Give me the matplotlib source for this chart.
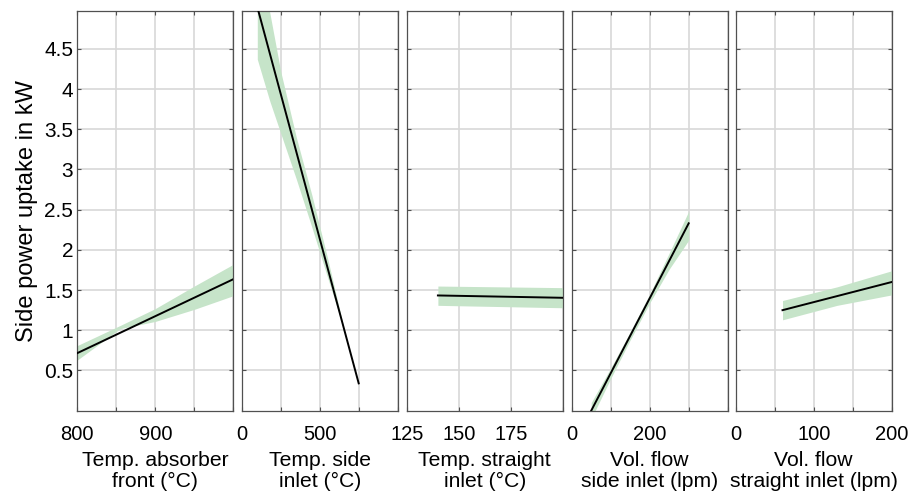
import matplotlib
matplotlib.use("Agg")
import matplotlib.pyplot as plt
import numpy as np

plt.rcParams['font.family'] = ['Liberation Sans', 'DejaVu Sans']
plt.rcParams['font.size'] = 14.5

# ---- data ----
labels = ["Temp. absorber\nfront (°C)", "Temp. side\ninlet (°C)",
          "Temp. straight\ninlet (°C)", "Vol. flow\nside inlet (lpm)",
          "Vol. flow\nstraight inlet (lpm)"]
xlims = [(800, 1000), (0, 1000), (125, 200), (0, 400), (0, 200)]
xticks = [[800, 850, 900, 950, 1000], [0, 250, 500, 750, 1000],
          [125, 150, 175, 200], [0, 100, 200, 300, 400], [0, 50, 100, 150, 200]]
xticklabels = [['800', '', '900', '', ''], ['0', '', '500', '', ''],
               ['125', '150', '175', ''], ['0', '', '200', '', ''],
               ['0', '', '100', '', '200']]

# fitted lines
line_x = [[800, 1000], [100, 750], [140, 200], [50, 300], [60, 200]]
line_y = [[0.716, 1.635], [5.02, 0.34], [1.433, 1.404], [0.0, 2.33], [1.25, 1.60]]

# confidence bands
band_x = [[800, 855, 900, 950, 1000],
          [100, 180, 250, 350, 450, 550, 650],
          [140, 200],
          [50, 100, 150, 200, 250, 300],
          [60, 130, 200]]
band_lo = [[0.63, 1.02, 1.11, 1.26, 1.43],
           [4.37, 3.85, 3.45, 2.88, 2.28, 1.66, 1.05],
           [1.31, 1.28],
           [-0.10, 0.40, 0.88, 1.34, 1.76, 2.12],
           [1.13, 1.31, 1.44]]
band_hi = [[0.81, 1.06, 1.27, 1.55, 1.82],
           [5.58, 4.95, 4.22, 3.40, 2.68, 1.90, 1.07],
           [1.55, 1.53],
           [0.10, 0.53, 0.98, 1.45, 1.96, 2.48],
           [1.37, 1.54, 1.74]]

yticks = [0.5, 1, 1.5, 2, 2.5, 3, 3.5, 4, 4.5]
yticklabels = ['0.5', '1', '1.5', '2', '2.5', '3', '3.5', '4', '4.5']

band_color = '#c6e4c9'
frame_color = '#505050'
grid_color = '#d8d8d8'

fig = plt.figure(figsize=(9.08, 4.96), dpi=100)
lefts = [77.3, 241.7, 406.7, 571.7, 735.7]
W, H = 908.0, 496.0
for i in range(5):
    ax = fig.add_axes([lefts[i] / W, (H - 410.7) / H, 156.0 / W, (410.7 - 11.0) / H])
    ax.fill_between(band_x[i], band_lo[i], band_hi[i], color=band_color, lw=0, zorder=2)
    ax.plot(line_x[i], line_y[i], color='black', lw=1.4, zorder=3)
    ax.set_xlim(*xlims[i])
    ax.set_ylim(0, 4.97)
    ax.set_xticks(xticks[i])
    ax.set_xticklabels(xticklabels[i])
    ax.set_yticks(yticks)
    if i == 0:
        ax.set_yticklabels(yticklabels, fontsize=15)
        ax.set_ylabel("Side power uptake in kW", fontsize=17, labelpad=4)
    else:
        ax.set_yticklabels([])
    ax.grid(True, color=grid_color, lw=1.2, zorder=0)
    ax.set_axisbelow(True)
    ax.tick_params(direction='in', length=3, width=0.8, color=frame_color,
                   top=True, right=True)
    ax.tick_params(axis='x', pad=10)
    ax.tick_params(axis='y', pad=3)
    for s in ax.spines.values():
        s.set_color(frame_color)
        s.set_linewidth(0.9)
    ax.set_xlabel(labels[i], fontsize=15.2, labelpad=5, linespacing=1.15)

fig.savefig("out.png", dpi=100)
